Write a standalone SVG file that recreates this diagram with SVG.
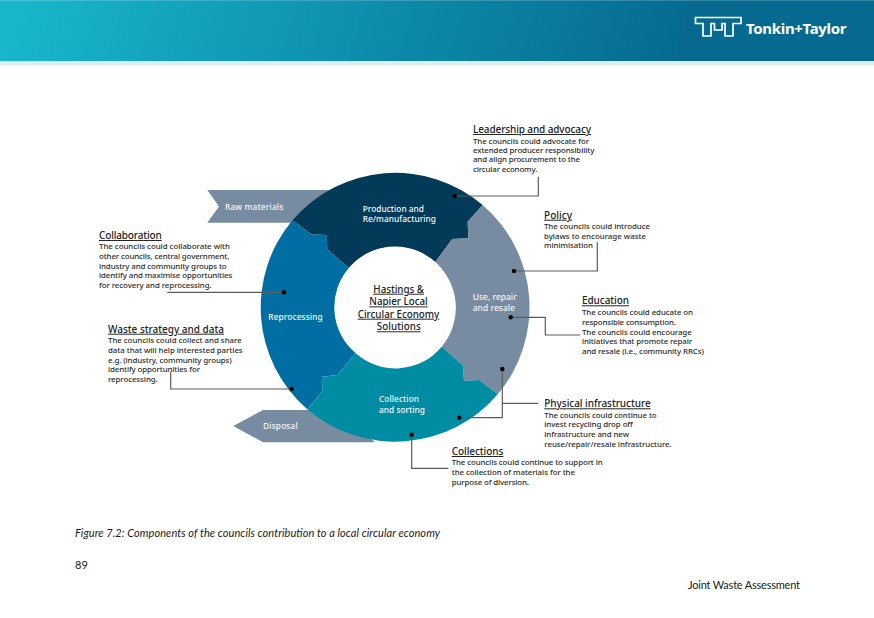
<svg xmlns="http://www.w3.org/2000/svg" width="874" height="618" viewBox="0 0 874 618">
<defs>
<linearGradient id="hdr" gradientUnits="userSpaceOnUse" x1="40" y1="-40" x2="640" y2="170">
<stop offset="0" stop-color="#18b6cb"/><stop offset="0.5" stop-color="#0e8fad"/><stop offset="1" stop-color="#066a90"/>
</linearGradient>
</defs>
<style>
text{font-family:"Noto Sans","Liberation Sans",sans-serif}
.h{font-size:10px;fill:#222;font-weight:500;text-decoration:underline}
.b{font-size:7.9px;fill:#2c2c2c;font-weight:500}
.w{font-size:8.3px;fill:#f4f7f9;font-weight:500}
.c{font-size:9.8px;fill:#222;font-weight:500;text-decoration:underline;text-anchor:middle}
.f{font-family:Lato,"Liberation Sans",sans-serif;font-size:11px;fill:#1a1a1a}
.l{fill:none;stroke:#5c5c5c;stroke-width:1.2}
.d{fill:#000}
</style>
<rect width="874" height="618" fill="#fff"/>
<g id="header">
<rect width="874" height="62" fill="url(#hdr)"/>
<rect width="874" height="1" fill="#fff" opacity="0.18"/>
<rect y="61" width="874" height="4.500" fill="#dcedf4"/>
<path d="M695.500 17.500H741V23.500H733V36H725V23.500H722V30H714.500V23.500H711V36H703V23.500H695.500Z" fill="none" stroke="#fff" stroke-width="1.700"/>
<text x="746" y="33.500" font-size="15" font-weight="700" fill="#fff" textLength="100.500">Tonkin+Taylor</text>
</g>
<g id="raw-materials">
<path d="M207.300 190H340V222.700H207.300L219 206.500Z" fill="#788ca1"/>
<text class="w" x="225" y="210" textLength="58.300">Raw materials</text>
</g>
<g id="disposal">
<path d="M233.300 426L263 410H340L375 442.300H263Z" fill="#788ca1"/>
<text class="w" x="263" y="428.700" textLength="34.700">Disposal</text>
</g>
<g id="reprocessing">
<path d="M292.700 220A135 135 0 0 0 307.300 409.300L322.300 391.700L322 376.700L337.700 375L355.700 353.300A60 60 0 0 1 349 268L327.300 249.300L326.700 235L310.700 234.300Z" fill="#006ea3"/>
<text class="w" x="268.300" y="320" textLength="54.400">Reprocessing</text>
</g>
<g id="production">
<path d="M292.700 220A135 135 0 0 1 482.700 205L467.700 221.700L468.300 238.300L452.300 239L435 262.500A60 60 0 0 0 349 268L327.300 249.300L326.700 235L310.700 234.300Z" fill="#023a57"/>
<text class="w" x="362.700" y="211.700" textLength="61.300">Production and</text>
<text class="w" x="362.700" y="222.300" textLength="73.300">Re/manufacturing</text>
</g>
<g id="use-repair">
<path d="M482.700 205A135 135 0 0 1 497.700 394.300L479.300 380L464 380.700L462.700 365L441.700 346.700A60 60 0 0 0 435 262.500L452.300 239L468.300 238.300L467.700 221.700Z" fill="#788ca1"/>
<text class="w" x="472.700" y="300" textLength="44">Use, repair</text>
<text class="w" x="472.700" y="310.700" textLength="42.300">and resale</text>
</g>
<g id="collection">
<path d="M497.700 394.300A135 135 0 0 1 307.300 409.300L322.300 391.700L322 376.700L337.700 375L355.700 353.300A60 60 0 0 0 441.700 346.700L462.700 365L464 380.700L479.300 380Z" fill="#008ca3"/>
<text class="w" x="379" y="402.300" textLength="40">Collection</text>
<text class="w" x="379" y="412.700" textLength="46">and sorting</text>
</g>
<g id="centre">
<circle cx="395" cy="306.500" r="60" fill="#fff"/>
<text class="c" x="398.700" y="292.700" textLength="50.700">Hastings &amp;</text>
<text class="c" x="398.500" y="305.400" textLength="58.400">Napier Local</text>
<text class="c" x="398.500" y="317.700" textLength="81.600">Circular Economy</text>
<text class="c" x="398.700" y="330.300" textLength="44">Solutions</text>
</g>
<g id="connectors">
<path class="l" d="M454.700 196H538.300V176.700"/><circle class="d" cx="454.700" cy="196" r="2.200"/>
<path class="l" d="M514 271H597.300V242.300"/><circle class="d" cx="514" cy="271" r="2.200"/>
<path class="l" d="M510.700 317.300H545.300V335H580"/><circle class="d" cx="510.700" cy="317.300" r="2.200"/>
<path class="l" d="M502.300 369V417.700H459.300M502 403.300H538.300"/><circle class="d" cx="502.300" cy="369" r="2.200"/><circle class="d" cx="459.300" cy="417.700" r="2.200"/>
<path class="l" d="M411.700 434.700V468.300H448.300"/><circle class="d" cx="411.700" cy="434.700" r="2.200"/>
<path class="l" d="M284 292.300H167.300"/><circle class="d" cx="284" cy="292.300" r="2.200"/>
<path class="l" d="M291.700 389H170.700V371.700"/><circle class="d" cx="291.700" cy="389" r="2.200"/>
</g>
<g id="leadership">
<text class="h" x="473" y="133" textLength="118">Leadership and advocacy</text>
<text class="b" x="473" y="143.500" textLength="116">The councils could advocate for</text>
<text class="b" x="473" y="152.800" textLength="121.300">extended producer responsibility</text>
<text class="b" x="473" y="162.300" textLength="107">and align procurement to the</text>
<text class="b" x="473" y="171.700" textLength="64.300">circular economy.</text>
</g>
<g id="policy">
<text class="h" x="544" y="218.700" textLength="28">Policy</text>
<text class="b" x="544" y="229" textLength="106">The councils could introduce</text>
<text class="b" x="544" y="238.500" textLength="102">bylaws to encourage waste</text>
<text class="b" x="544" y="248" textLength="49">minimisation</text>
</g>
<g id="education">
<text class="h" x="582" y="304.300" textLength="47">Education</text>
<text class="b" x="582" y="315.300" textLength="111">The councils could educate on</text>
<text class="b" x="582" y="325" textLength="94">responsible consumption.</text>
<text class="b" x="582" y="334.700" textLength="109.700">The councils could encourage</text>
<text class="b" x="582" y="344.200" textLength="110">initiatives that promote repair</text>
<text class="b" x="582" y="353.700" textLength="122">and resale (i.e., community RRCs)</text>
</g>
<g id="physical">
<text class="h" x="544.300" y="407.300" textLength="106.400">Physical infrastructure</text>
<text class="b" x="544.300" y="417.700" textLength="112.400">The councils could continue to</text>
<text class="b" x="544.300" y="427.300" textLength="88.700">invest recycling drop off</text>
<text class="b" x="544.300" y="437" textLength="84.700">infrastructure and new</text>
<text class="b" x="544.300" y="446.600" textLength="127.400">reuse/repair/resale infrastructure.</text>
</g>
<g id="collections">
<text class="h" x="451.700" y="455" textLength="51.600">Collections</text>
<text class="b" x="451.700" y="465" textLength="151">The councils could continue to support in</text>
<text class="b" x="451.700" y="475" textLength="123.300">the collection of materials for the</text>
<text class="b" x="451.700" y="484.700" textLength="77.300">purpose of diversion.</text>
</g>
<g id="collaboration">
<text class="h" x="99" y="239" textLength="62.700">Collaboration</text>
<text class="b" x="99" y="249.300" textLength="131">The councils could collaborate with</text>
<text class="b" x="99" y="259" textLength="130.300">other councils, central government,</text>
<text class="b" x="99" y="268.700" textLength="127.700">industry and community groups to</text>
<text class="b" x="99" y="278.300" textLength="133.300">identify and maximise opportunities</text>
<text class="b" x="99" y="288" textLength="112.700">for recovery and reprocessing.</text>
</g>
<g id="waste-strategy">
<text class="h" x="108" y="332.700" textLength="116">Waste strategy and data</text>
<text class="b" x="108" y="343.300" textLength="133.700">The councils could collect and share</text>
<text class="b" x="108" y="353" textLength="134.700">data that will help interested parties</text>
<text class="b" x="108" y="362.700" textLength="123.700">e.g. (industry, community groups)</text>
<text class="b" x="108" y="372.200" textLength="92">identify opportunities for</text>
<text class="b" x="108" y="382" textLength="49.700">reprocessing.</text>
</g>
<g id="footer">
<text class="f" x="75" y="537" font-style="italic" textLength="365">Figure 7.2: Components of the councils contribution to a local circular economy</text>
<text class="f" x="75" y="569">89</text>
<text class="f" x="688" y="589" textLength="112">Joint Waste Assessment</text>
</g>
</svg>
